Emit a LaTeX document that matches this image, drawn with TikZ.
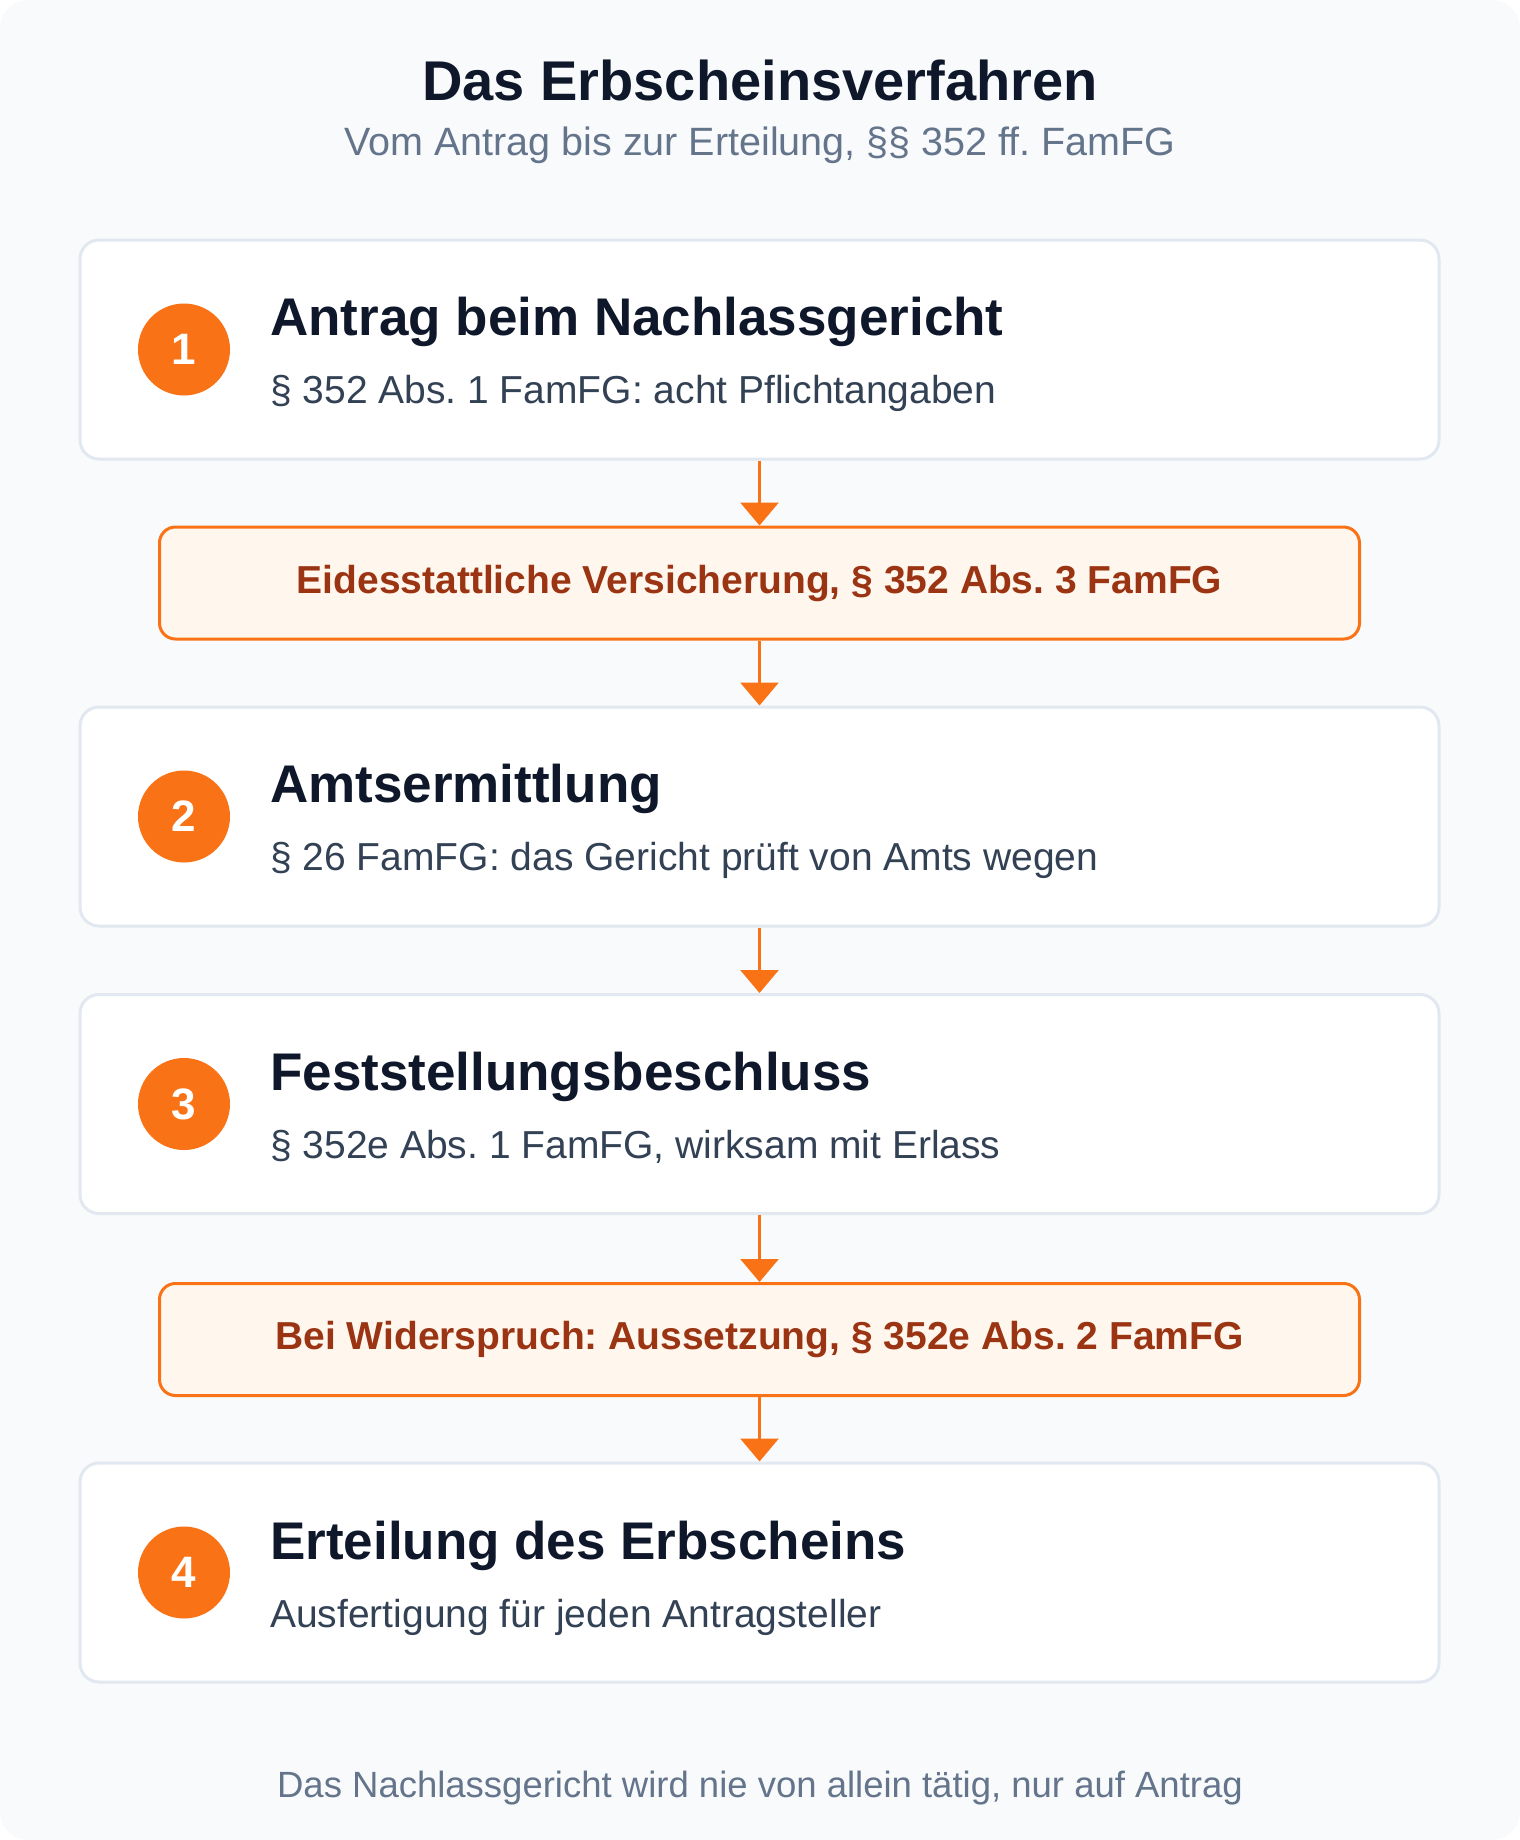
\documentclass[tikz,border=0pt]{standalone}
\usepackage{fontspec}
\setmainfont{Liberation Sans}
\usepackage{xcolor}
\usetikzlibrary{arrows.meta, positioning}
\frenchspacing
\definecolor{pagebg}{HTML}{F8FAFC}
\definecolor{cardline}{HTML}{E2E8F0}
\definecolor{accent}{HTML}{F97316}
\definecolor{notefill}{HTML}{FFF7ED}
\definecolor{notetext}{HTML}{9A3412}
\definecolor{ink}{HTML}{0F172A}
\definecolor{slate}{HTML}{334155}
\definecolor{muted}{HTML}{64748B}
\tikzset{
    stepcard/.style={draw=cardline, line width=3pt, fill=white, rounded corners=19pt, minimum width=1359pt, minimum height=219pt, inner sep=0pt},
    notebox/.style={draw=accent, line width=3pt, fill=notefill, rounded corners=16pt, minimum width=1200pt, minimum height=112pt, inner sep=0pt, text=notetext, font=\fontsize{39}{46}\selectfont\bfseries},
    badge/.style={circle, fill=accent, minimum size=92pt, inner sep=0pt, text=white, font=\fontsize{44}{52}\selectfont\bfseries},
    heading/.style={anchor=base west, inner sep=0pt, text=ink, font=\fontsize{53}{60}\selectfont\bfseries},
    detail/.style={anchor=base west, inner sep=0pt, text=slate, font=\fontsize{39}{46}\selectfont},
    flow/.style={draw=accent, line width=3pt, -{Triangle[length=23pt, width=38pt]}}
}

\begin{document}
\begin{tikzpicture}[x=1pt, y=-1pt]
    \useasboundingbox (0,0) rectangle (1520,1840);
    \fill[pagebg, rounded corners=28pt] (0,0) rectangle (1520,1840); % page
    \node[anchor=base, inner sep=0pt, text=ink, font=\fontsize{56}{64}\selectfont\bfseries] (title) at (760,100) {Das Erbscheinsverfahren};
    \node[anchor=base, inner sep=0pt, text=muted, font=\fontsize{39.5}{46}\selectfont] (subtitle) at (760,155) {Vom Antrag bis zur Erteilung, §§ 352 ff. FamFG};
    % steps
    \node[stepcard] (antrag) at (759.5,349.5) {};
    \node[badge] (n1) at (184,349.5) {1};
    \node[heading] (h1) at (270,335) {Antrag beim Nachlassgericht};
    \node[detail] (d1) at (270,403) {§ 352 Abs. 1 FamFG: acht Pflichtangaben};
    \node[notebox] (eid) at (759.5,583) {Eidesstattliche Versicherung, § 352 Abs. 3 FamFG};
    \node[stepcard] (amt) at (759.5,816.5) {};
    \node[badge] (n2) at (184,816.5) {2};
    \node[heading] (h2) at (270,802) {Amtsermittlung};
    \node[detail] (d2) at (270,870) {§ 26 FamFG: das Gericht prüft von Amts wegen};
    \node[stepcard] (beschluss) at (759.5,1104) {};
    \node[badge] (n3) at (184,1104) {3};
    \node[heading] (h3) at (270,1090) {Feststellungsbeschluss};
    \node[detail] (d3) at (270,1158) {§ 352e Abs. 1 FamFG, wirksam mit Erlass};
    \node[notebox] (widerspruch) at (759.5,1339.5) {Bei Widerspruch: Aussetzung, § 352e Abs. 2 FamFG};
    \node[stepcard] (erteilung) at (759.5,1572.5) {};
    \node[badge] (n4) at (184,1572.5) {4};
    \node[heading] (h4) at (270,1559) {Erteilung des Erbscheins};
    \node[detail] (d4) at (270,1627) {Ausfertigung für jeden Antragsteller};
    \node[anchor=base, inner sep=0pt, text=muted, font=\fontsize{36.5}{44}\selectfont] (footer) at (760,1797) {Das Nachlassgericht wird nie von allein tätig, nur auf Antrag};
    % arrows
    \draw[flow] (antrag) -- (eid);
    \draw[flow] (eid) -- (amt);
    \draw[flow] (amt) -- (beschluss);
    \draw[flow] (beschluss) -- (widerspruch);
    \draw[flow] (widerspruch) -- (erteilung);
\end{tikzpicture}
\end{document}
